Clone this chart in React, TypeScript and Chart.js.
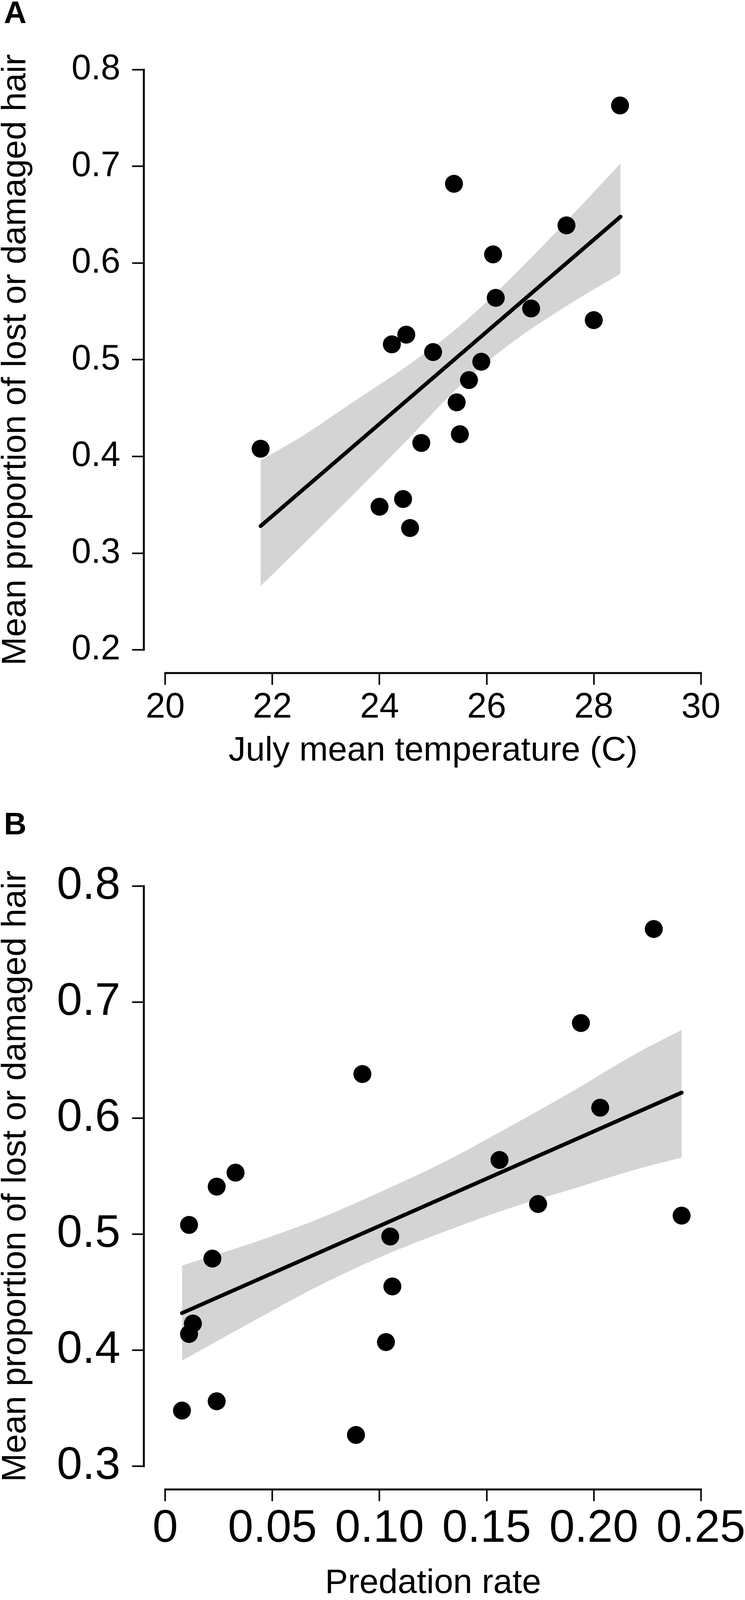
import React, { useEffect, useRef } from 'react';
import { Chart, registerables } from 'chart.js';

Chart.register(...registerables);

// ---------- Panel A data ----------
const A_TEMP = [21.78, 24.0, 24.44, 24.57, 24.23, 24.5, 24.78, 25.0, 25.39, 25.44, 25.5, 25.67, 25.9, 26.12, 26.17, 26.83, 27.49, 28.0, 28.49];
const A_HAIR = [0.408, 0.348, 0.356, 0.326, 0.516, 0.526, 0.414, 0.508, 0.682, 0.456, 0.423, 0.479, 0.498, 0.609, 0.564, 0.553, 0.639, 0.541, 0.763];
const A_FIT_X = [21.78, 28.5];
const A_FIT_Y = [0.328, 0.648];
const A_BAND_X = [21.78, 22.5, 23.5, 24.5, 25.5, 26.5, 27.5, 28.5];
const A_BAND_UPPER = [0.396, 0.419, 0.456, 0.493, 0.535, 0.587, 0.644, 0.703];
const A_BAND_LOWER = [0.266, 0.305, 0.36, 0.416, 0.473, 0.519, 0.556, 0.589];
const A_X_TICKS = [20, 22, 24, 26, 28, 30];
const A_X_LABELS = ['20', '22', '24', '26', '28', '30'];
const A_Y_TICKS = [0.2, 0.3, 0.4, 0.5, 0.6, 0.7, 0.8];
const A_Y_LABELS = ['0.2', '0.3', '0.4', '0.5', '0.6', '0.7', '0.8'];

// ---------- Panel B data ----------
const B_PRED = [0.0078, 0.0111, 0.0129, 0.0111, 0.022, 0.024, 0.024, 0.0328, 0.089, 0.092, 0.103, 0.105, 0.106, 0.156, 0.174, 0.194, 0.203, 0.228, 0.241];
const B_HAIR = [0.348, 0.414, 0.423, 0.508, 0.479, 0.541, 0.356, 0.553, 0.327, 0.638, 0.407, 0.498, 0.455, 0.564, 0.526, 0.682, 0.609, 0.763, 0.516];
const B_FIT_X = [0.0078, 0.241];
const B_FIT_Y = [0.432, 0.622];
const B_BAND_X = [0.0078, 0.04, 0.07, 0.1, 0.13, 0.16, 0.19, 0.22, 0.241];
const B_BAND_UPPER = [0.473, 0.492, 0.512, 0.536, 0.562, 0.592, 0.623, 0.656, 0.676];
const B_BAND_LOWER = [0.391, 0.424, 0.454, 0.48, 0.502, 0.522, 0.539, 0.556, 0.566];
const B_X_TICKS = [0, 0.05, 0.1, 0.15, 0.2, 0.25];
const B_X_LABELS = ['0', '0.05', '0.10', '0.15', '0.20', '0.25'];
const B_Y_TICKS = [0.3, 0.4, 0.5, 0.6, 0.7, 0.8];
const B_Y_LABELS = ['0.3', '0.4', '0.5', '0.6', '0.7', '0.8'];

const Y_TITLE = 'Mean proportion of lost or damaged hair';
const FONT = '"Liberation Sans", Arial, Helvetica, sans-serif';

// the captured picture is ~4096px tall, so the vertical layout is fitted to it
const PAGE_H = 4096;
const A_H = 2007;
const B_H = PAGE_H - A_H;

const zip = (xs: number[], ys: number[]) => xs.map((x, i) => ({ x, y: ys[i] }));

type PanelCfg = {
  letter: string;
  letterBaseline: number;
  height: number;
  padTop: number;
  xScaleHeight: number;
  xMin: number; xMax: number; yMin: number; yMax: number;
  xTicks: number[]; xLabels: string[];
  yTicks: number[]; yLabels: string[];
  tickFont: number;
  xTickPad: number;
  xTitle: string;
  xTitlePadBottom: number;
  px: number[]; py: number[];
  fitX: number[]; fitY: number[];
  bandX: number[]; bandU: number[]; bandL: number[];
};

const PANEL_A: PanelCfg = {
  letter: 'A', letterBaseline: 59, height: A_H, padTop: 119, xScaleHeight: 284,
  xMin: 19.6, xMax: 30.4, yMin: 0.176, yMax: 0.824,
  xTicks: A_X_TICKS, xLabels: A_X_LABELS, yTicks: A_Y_TICKS, yLabels: A_Y_LABELS,
  tickFont: 90, xTickPad: 5, xTitle: 'July mean temperature (C)', xTitlePadBottom: 49,
  px: A_TEMP, py: A_HAIR, fitX: A_FIT_X, fitY: A_FIT_Y,
  bandX: A_BAND_X, bandU: A_BAND_UPPER, bandL: A_BAND_LOWER,
};

const PANEL_B: PanelCfg = {
  letter: 'B', letterBaseline: 129, height: B_H, padTop: 202, xScaleHeight: 283,
  xMin: -0.01, xMax: 0.26, yMin: 0.28, yMax: 0.82,
  xTicks: B_X_TICKS, xLabels: B_X_LABELS, yTicks: B_Y_TICKS, yLabels: B_Y_LABELS,
  tickFont: 117, xTickPad: 2, xTitle: 'Predation rate', xTitlePadBottom: 7,
  px: B_PRED, py: B_HAIR, fitX: B_FIT_X, fitY: B_FIT_Y,
  bandX: B_BAND_X, bandU: B_BAND_UPPER, bandL: B_BAND_LOWER,
};

function Panel({ cfg, top }: { cfg: PanelCfg; top: number }) {
  const ref = useRef<HTMLCanvasElement | null>(null);

  useEffect(() => {
    if (!ref.current) return;
    const axisPlugin = {
      id: 'rAxes',
      afterDraw(chart: any) {
        const { ctx, chartArea, scales } = chart;
        const xs = scales.x;
        const ys = scales.y;
        ctx.save();
        ctx.strokeStyle = '#000';
        ctx.lineWidth = 5;
        ctx.lineCap = 'square';
        ctx.beginPath();
        ctx.moveTo(chartArea.left, ys.getPixelForValue(cfg.yTicks[0]));
        ctx.lineTo(chartArea.left, ys.getPixelForValue(cfg.yTicks[cfg.yTicks.length - 1]));
        ctx.moveTo(xs.getPixelForValue(cfg.xTicks[0]), chartArea.bottom);
        ctx.lineTo(xs.getPixelForValue(cfg.xTicks[cfg.xTicks.length - 1]), chartArea.bottom);
        ctx.stroke();
        ctx.fillStyle = '#000';
        ctx.font = `bold 80px ${FONT}`;
        ctx.textAlign = 'left';
        ctx.textBaseline = 'alphabetic';
        ctx.fillText(cfg.letter, 10, cfg.letterBaseline);
        ctx.restore();
      },
    };

    const gridOpts = {
      display: true,
      drawOnChartArea: false,
      drawTicks: true,
      tickLength: 30,
      tickWidth: 4,
      tickColor: '#000',
      color: '#000',
    };

    const chart = new Chart(ref.current, {
      type: 'scatter',
      data: {
        datasets: [
          {
            data: zip(cfg.bandX, cfg.bandU),
            showLine: true,
            fill: '+1',
            backgroundColor: '#d4d4d4',
            borderColor: 'rgba(0,0,0,0)',
            borderWidth: 0,
            pointRadius: 0,
            cubicInterpolationMode: 'monotone',
            order: 3,
          },
          {
            data: zip(cfg.bandX, cfg.bandL),
            showLine: true,
            fill: false,
            borderColor: 'rgba(0,0,0,0)',
            borderWidth: 0,
            pointRadius: 0,
            cubicInterpolationMode: 'monotone',
            order: 3,
          },
          {
            data: zip(cfg.px, cfg.py),
            showLine: false,
            pointRadius: 23,
            pointBorderWidth: 0,
            pointBackgroundColor: '#000',
            pointBorderColor: '#000',
            order: 2,
          },
          {
            data: zip(cfg.fitX, cfg.fitY),
            showLine: true,
            fill: false,
            borderColor: '#000',
            borderWidth: 10,
            borderCapStyle: 'round',
            pointRadius: 0,
            order: 1,
          },
        ],
      } as any,
      options: {
        animation: false,
        responsive: false,
        devicePixelRatio: 1,
        events: [],
        layout: { padding: { top: cfg.padTop, right: 58, left: 0, bottom: 0 } },
        plugins: { legend: { display: false }, tooltip: { enabled: false }, title: { display: false } },
        scales: {
          x: {
            type: 'linear',
            position: 'bottom',
            min: cfg.xMin,
            max: cfg.xMax,
            afterBuildTicks: (s: any) => { s.ticks = cfg.xTicks.map((v) => ({ value: v })); },
            afterFit: (s: any) => {
              s.height = cfg.xScaleHeight;
              s.paddingLeft = 0; s.paddingRight = 0; s.paddingTop = 0; s.paddingBottom = 0;
            },
            grid: gridOpts,
            border: { display: false },
            ticks: {
              autoSkip: false,
              maxRotation: 0,
              minRotation: 0,
              padding: cfg.xTickPad,
              color: '#000',
              font: { family: FONT, size: cfg.tickFont },
              callback: (v: any) => {
                const i = cfg.xTicks.findIndex((t) => Math.abs(t - Number(v)) < 1e-9);
                return i >= 0 ? cfg.xLabels[i] : '';
              },
            },
            title: {
              display: true,
              text: cfg.xTitle,
              color: '#000',
              font: { family: FONT, size: 88, lineHeight: 0.8 },
              padding: { top: 0, bottom: cfg.xTitlePadBottom },
            },
          },
          y: {
            type: 'linear',
            position: 'left',
            min: cfg.yMin,
            max: cfg.yMax,
            afterBuildTicks: (s: any) => { s.ticks = cfg.yTicks.map((v) => ({ value: v })); },
            afterFit: (s: any) => {
              s.width = 368;
              s.paddingLeft = 0; s.paddingRight = 0; s.paddingTop = 0; s.paddingBottom = 0;
            },
            grid: gridOpts,
            border: { display: false },
            ticks: {
              autoSkip: false,
              padding: 30,
              color: '#000',
              font: { family: FONT, size: cfg.tickFont },
              callback: (v: any) => {
                const i = cfg.yTicks.findIndex((t) => Math.abs(t - Number(v)) < 1e-9);
                return i >= 0 ? cfg.yLabels[i] : '';
              },
            },
            title: {
              display: true,
              text: Y_TITLE,
              color: '#000',
              font: { family: FONT, size: 88, lineHeight: 0.92 },
              padding: { top: 0, bottom: 0 },
            },
          },
        },
      } as any,
      plugins: [axisPlugin],
    });
    return () => chart.destroy();
  }, [cfg]);

  return (
    <canvas
      ref={ref}
      width={1906}
      height={cfg.height}
      style={{ position: 'absolute', left: 0, top, width: 1906, height: cfg.height, display: 'block' }}
    />
  );
}

export default function App() {
  return (
    <div style={{ position: 'absolute', left: 0, top: 0, width: 1906, height: PAGE_H, background: '#fff' }}>
      <Panel cfg={PANEL_A} top={0} />
      <Panel cfg={PANEL_B} top={A_H} />
    </div>
  );
}
